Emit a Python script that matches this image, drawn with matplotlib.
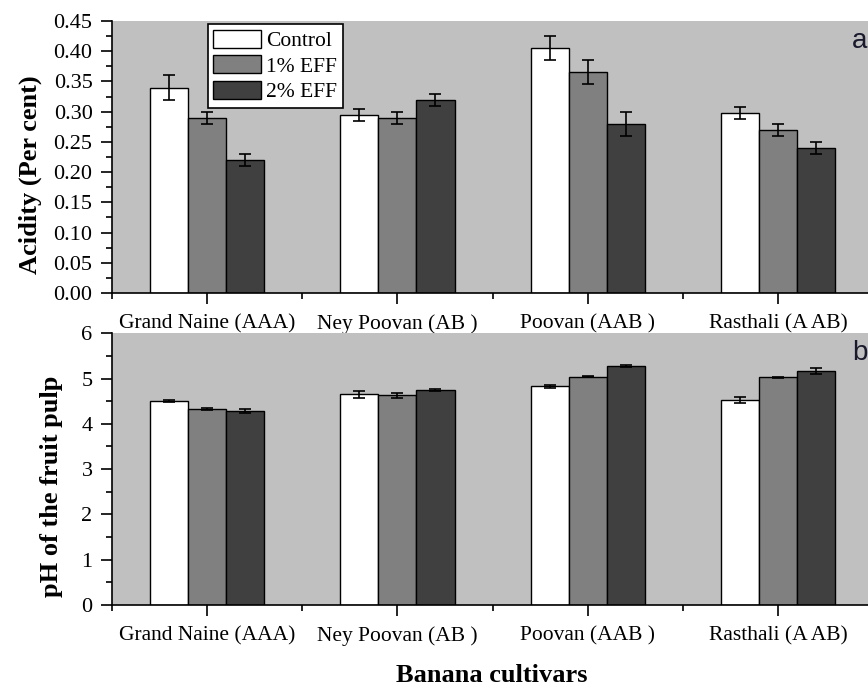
import numpy as np
import matplotlib
matplotlib.use('Agg')
import matplotlib.pyplot as plt
from matplotlib.ticker import MultipleLocator, FixedLocator

plt.rcParams['font.family'] = ['Liberation Serif', 'DejaVu Serif']

# Cultivars and treatments
cultivars = ['Grand Naine (AAA)', 'Ney Poovan (AB )', 'Poovan (AAB )', 'Rasthali (A AB)']
treatments = ['Control', '1% EFF', '2% EFF']
colors = ['#ffffff', '#808080', '#404040']

# Titratable acidity (per cent) and SE
acidity = [
    [0.340, 0.295, 0.405, 0.298],   # Control
    [0.290, 0.290, 0.365, 0.270],   # 1% EFF
    [0.220, 0.319, 0.280, 0.240],   # 2% EFF
]
acidity_err = [
    [0.020, 0.010, 0.020, 0.010],
    [0.010, 0.010, 0.020, 0.010],
    [0.010, 0.010, 0.020, 0.010],
]

# pH of the fruit pulp and SE
ph = [
    [4.50, 4.65, 4.83, 4.52],
    [4.33, 4.63, 5.04, 5.03],
    [4.28, 4.74, 5.28, 5.17],
]
ph_err = [
    [0.02, 0.08, 0.03, 0.07],
    [0.02, 0.05, 0.01, 0.01],
    [0.04, 0.02, 0.02, 0.07],
]

fig = plt.figure(figsize=(8.68, 6.89), dpi=100)
ax1 = fig.add_axes([0.129, 0.5747, 0.877, 0.3948])
ax2 = fig.add_axes([0.129, 0.1219, 0.877, 0.3944])

x = np.arange(1, len(cultivars) + 1)
width = 0.2


def draw_panel(ax, vals, errs, ymax, major, minor, fmt, letter):
    ax.set_facecolor('#c0c0c0')
    for i, t in enumerate(treatments):
        pos = x + (i - 1) * width
        ax.bar(pos, vals[i], width, color=colors[i], edgecolor='black',
               linewidth=1.0, label=t, zorder=2)
        ax.errorbar(pos, vals[i], yerr=errs[i], fmt='none', ecolor='black',
                    elinewidth=1.2, capsize=4.3, capthick=1.2, zorder=3)
    ax.set_xlim(0.5, 4.5)
    ax.set_ylim(0, ymax)
    ax.yaxis.set_major_locator(MultipleLocator(major))
    ax.yaxis.set_minor_locator(MultipleLocator(minor))
    ax.yaxis.set_major_formatter(plt.FormatStrFormatter(fmt))
    ax.set_xticks(x)
    ax.set_xticklabels(cultivars)
    ax.xaxis.set_minor_locator(FixedLocator([0.5, 1.5, 2.5, 3.5, 4.5]))
    ax.tick_params(axis='x', which='major', direction='out', length=8,
                   width=1.2, labelsize=15.5, pad=7)
    ax.tick_params(axis='y', which='major', direction='out', length=8,
                   width=1.2, labelsize=16, pad=6)
    ax.tick_params(axis='both', which='minor', direction='out', length=4.3,
                   width=1.2)
    for s in ['top', 'right']:
        ax.spines[s].set_visible(False)
    for s in ['left', 'bottom']:
        ax.spines[s].set_linewidth(1.2)
    ax.text(0.972, 0.901, letter, transform=ax.transAxes, fontsize=20,
            family=['Liberation Sans', 'DejaVu Sans'], ha='left', va='baseline',
            color='#1a1a2e')


draw_panel(ax1, acidity, acidity_err, 0.45, 0.05, 0.025, '%.2f', 'a')
draw_panel(ax2, ph, ph_err, 6, 1, 0.5, '%d', 'b')

ax1.set_ylabel('Acidity (Per cent)', fontsize=19, fontweight='bold')
ax1.yaxis.set_label_coords(-0.092, 0.436)
ax2.set_ylabel('pH of the fruit pulp', fontsize=19, fontweight='bold')
ax2.yaxis.set_label_coords(-0.0644, 0.438)
fig.text(0.566, 0.02, 'Banana cultivars', fontsize=19, fontweight='bold',
         ha='center', va='center')

leg = ax1.legend(loc='upper left', bbox_to_anchor=(0.1255, 0.988), fontsize=15.5,
                 frameon=True, fancybox=False, edgecolor='black',
                 facecolor='white', framealpha=1, handlelength=2.23,
                 handleheight=0.9, labelspacing=0.2, borderpad=0.25,
                 handletextpad=0.25, borderaxespad=0.0)
leg.get_frame().set_linewidth(1.2)

fig.savefig('out.png', dpi=100)
